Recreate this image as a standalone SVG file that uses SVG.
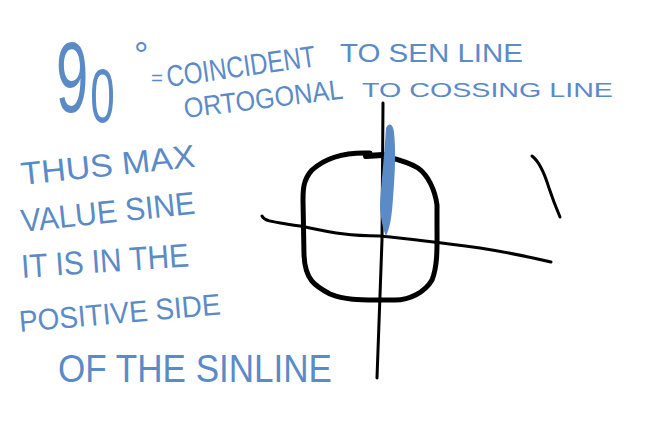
<svg xmlns="http://www.w3.org/2000/svg" width="660" height="434" viewBox="0 0 660 434">
<style>
.t{fill:#5b8bc7;font-family:"Liberation Sans","DejaVu Sans",sans-serif;}
.k{fill:none;stroke:#000;stroke-linecap:round;stroke-linejoin:round;}
</style>
<rect width="660" height="434" fill="#fff"/>
<g id="title">
<text class="t" transform="translate(56,0) scale(0.58,1)" x="0" y="112" font-size="100">9<tspan x="59" y="122" font-size="76">0</tspan></text>
<text class="t" x="134" y="68" font-size="36">°</text>
<text class="t" x="151" y="85" font-size="20" textLength="12" lengthAdjust="spacingAndGlyphs">=</text>
<text class="t" x="168" y="87" font-size="30" textLength="150" lengthAdjust="spacingAndGlyphs" transform="rotate(-8 168 87)">COINCIDENT</text>
<text class="t" x="340" y="62" font-size="25" textLength="183" lengthAdjust="spacingAndGlyphs">TO SEN LINE</text>
<text class="t" x="185" y="118" font-size="28" textLength="160" lengthAdjust="spacingAndGlyphs" transform="rotate(-7 185 118)">ORTOGONAL</text>
<text class="t" x="362" y="97" font-size="21" textLength="251" lengthAdjust="spacingAndGlyphs">TO COSSING LINE</text>
</g>
<g id="note">
<text class="t" x="22" y="185" font-size="32" textLength="175" lengthAdjust="spacingAndGlyphs" transform="rotate(-6 22 185)">THUS MAX</text>
<text class="t" x="22" y="232" font-size="32" textLength="175" lengthAdjust="spacingAndGlyphs" transform="rotate(-6 22 232)">VALUE SINE</text>
<text class="t" x="22" y="278" font-size="33" textLength="168" lengthAdjust="spacingAndGlyphs" transform="rotate(-4 22 278)">IT IS IN THE</text>
<text class="t" x="20" y="332" font-size="30" textLength="202" lengthAdjust="spacingAndGlyphs" transform="rotate(-5 20 332)">POSITIVE SIDE</text>
<text class="t" x="58" y="382" font-size="38" textLength="274" lengthAdjust="spacingAndGlyphs">OF THE SINLINE</text>
</g>
<g id="figure">
<path class="k" stroke-width="5" d="M370,153 C345,152 325,158 312,170 C303,180 303,190 303,200 L304,255 C305,280 315,286 330,294 C345,300 360,300 375,300 L395,300 C410,300 425,292 432,280 C438,265 437,245 437,225 L437,205 C435,190 428,175 418,168 C410,163 400,160 388,157"/>
<path class="k" stroke-width="6" d="M366,156 L383,155"/>
<path class="k" stroke-width="3" d="M383,103 L382,240 L377,378"/>
<path class="k" stroke-width="3" d="M262,216 C265,222 275,222 300,226 C330,232 345,236 380,236 C420,240 450,244 480,248 C505,252 530,257 551,262"/>
<path class="k" stroke-width="3" d="M532,156 C540,162 545,175 549,188 C553,200 557,210 560,217"/>
<path fill="#5b8bc7" d="M386,128 C389,122 393,124 394,132 C396,150 395,175 393,198 C392,215 390,228 386,236 C383,230 380,215 380,205 C381,185 384,160 386,128 Z"/>
</g>
</svg>
